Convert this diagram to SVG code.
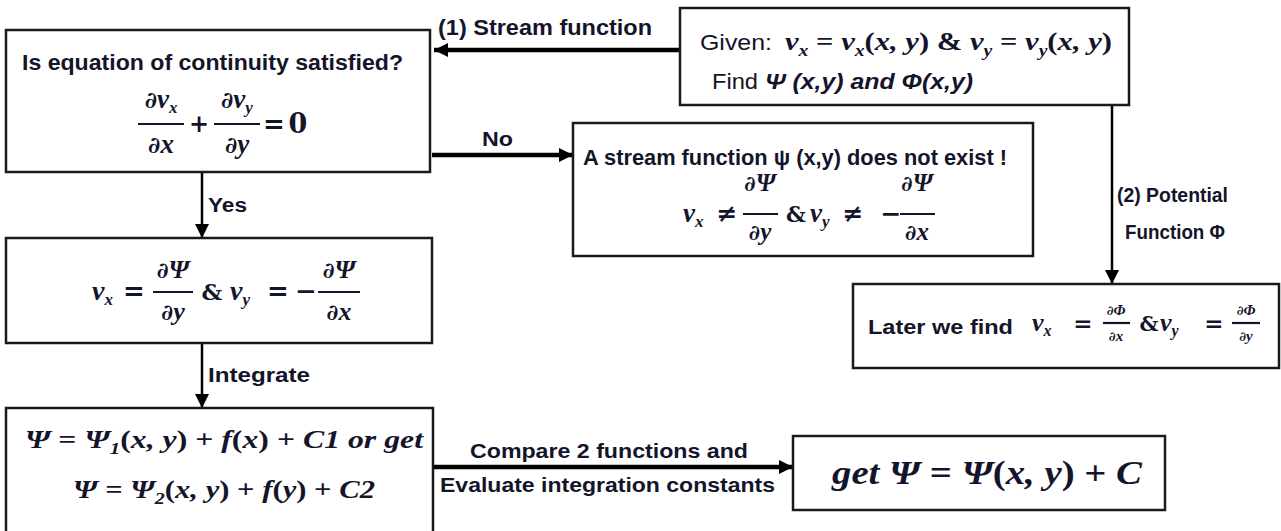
<svg xmlns="http://www.w3.org/2000/svg" width="1281" height="531" viewBox="0 0 1281 531">
  <defs>
    <marker id="head" viewBox="0 0 10 10" refX="10" refY="5" markerWidth="14" markerHeight="14" markerUnits="userSpaceOnUse" orient="auto">
      <path d="M0,0 L10,5 L0,10 z" fill="#000"/>
    </marker>
  </defs>
  <style>
    .box { fill: #fff; stroke: #1a1a1a; stroke-width: 2.5; }
    .link { fill: none; stroke: #000; }
    .thick { stroke-width: 4.5; }
    .thin { stroke-width: 2.5; }
    .bar { stroke: #14142a; stroke-width: 2.2; }
    .lbl { font-family: "Liberation Sans", Arial, sans-serif; font-weight: bold; fill: #14142a; }
    .reg { font-family: "Liberation Sans", Arial, sans-serif; fill: #14142a; }
    .math { font-family: "Liberation Serif", "DejaVu Serif", "Times New Roman", serif; font-weight: bold; font-style: italic; fill: #14142a; }
    .d { font-family: "DejaVu Serif", serif; font-size: 0.85em; }
    .up { font-style: normal; }
    .op { font-family: "DejaVu Serif", serif; font-weight: bold; fill: #14142a; text-anchor: middle; }
  </style>
  <rect width="1281" height="531" fill="#fff"/>

  <!-- connectors -->
  <g id="connectors">
    <line class="link thick" x1="680" y1="50" x2="434" y2="50" marker-end="url(#head)"/>
    <line class="link thick" x1="432" y1="155" x2="573" y2="155" marker-end="url(#head)"/>
    <line class="link thin" x1="202" y1="172" x2="202" y2="238" marker-end="url(#head)"/>
    <line class="link thin" x1="202" y1="343" x2="202" y2="408" marker-end="url(#head)"/>
    <line class="link thin" x1="1112" y1="105" x2="1112" y2="284" marker-end="url(#head)"/>
    <line class="link thick" x1="433" y1="467" x2="793" y2="467" marker-end="url(#head)"/>
    <text class="lbl" x="438" y="35" font-size="22" textLength="214" lengthAdjust="spacingAndGlyphs">(1) Stream function</text>
    <text class="lbl" x="482" y="146" font-size="20" textLength="31" lengthAdjust="spacingAndGlyphs">No</text>
    <text class="lbl" x="208" y="212" font-size="20" textLength="39" lengthAdjust="spacingAndGlyphs">Yes</text>
    <text class="lbl" x="208" y="382" font-size="20" textLength="102" lengthAdjust="spacingAndGlyphs">Integrate</text>
    <text class="lbl" x="1117" y="202" font-size="20" textLength="111" lengthAdjust="spacingAndGlyphs">(2) Potential</text>
    <text class="lbl" x="1125" y="239" font-size="20" textLength="100" lengthAdjust="spacingAndGlyphs">Function Φ</text>
    <text class="lbl" x="470" y="458" font-size="21" textLength="278" lengthAdjust="spacingAndGlyphs">Compare 2 functions and</text>
    <text class="lbl" x="440" y="492" font-size="21" textLength="335" lengthAdjust="spacingAndGlyphs">Evaluate integration constants</text>
  </g>

  <!-- starting point -->
  <g id="given">
    <rect class="box" x="680" y="8" width="449" height="97"/>
    <text class="reg" x="700" y="50" font-size="22" textLength="72" lengthAdjust="spacingAndGlyphs">Given:</text>
    <text class="math" x="785" y="50" font-size="25" textLength="327" lengthAdjust="spacingAndGlyphs">v<tspan font-size="16" dy="6">x</tspan><tspan class="up" dy="-6"> = </tspan>v<tspan font-size="16" dy="6">x</tspan><tspan class="up" dy="-6">(</tspan>x, y<tspan class="up">) &amp; </tspan>v<tspan font-size="16" dy="6">y</tspan><tspan class="up" dy="-6"> = </tspan>v<tspan font-size="16" dy="6">y</tspan><tspan class="up" dy="-6">(</tspan>x, y<tspan class="up">)</tspan></text>
    <text class="reg" x="712" y="89" font-size="22" textLength="46" lengthAdjust="spacingAndGlyphs">Find</text>
    <text class="lbl" x="765" y="89" font-size="22" font-style="italic" textLength="208" lengthAdjust="spacingAndGlyphs">Ψ (x,y)  and  Φ(x,y)</text>
  </g>

  <!-- continuity check -->
  <g id="continuity">
    <rect class="box" x="6" y="30" width="424" height="142"/>
    <text class="lbl" x="22" y="70" font-size="22" textLength="381" lengthAdjust="spacingAndGlyphs">Is equation of continuity satisfied?</text>
    <text class="math" x="161" y="108" font-size="27" text-anchor="middle"><tspan class="d">∂</tspan>v<tspan font-size="17" dy="5">x</tspan></text>
    <line class="bar" x1="138" y1="124" x2="184" y2="124"/>
    <text class="math" x="161" y="153" font-size="27" text-anchor="middle"><tspan class="d">∂</tspan>x</text>
    <text class="op" x="199" y="132" font-size="24">+</text>
    <text class="math" x="237" y="108" font-size="27" text-anchor="middle"><tspan class="d">∂</tspan>v<tspan font-size="17" dy="5">y</tspan></text>
    <line class="bar" x1="214" y1="124" x2="260" y2="124"/>
    <text class="math" x="237" y="153" font-size="27" text-anchor="middle"><tspan class="d">∂</tspan>y</text>
    <text class="op" x="274" y="133" font-size="26">=</text>
    <text class="op" x="298" y="133" font-size="27">0</text>
  </g>

  <!-- no stream function -->
  <g id="no-stream">
    <rect class="box" x="573" y="123" width="460" height="133"/>
    <text class="lbl" x="583" y="165" font-size="22" textLength="424" lengthAdjust="spacingAndGlyphs">A stream function ψ (x,y) does not exist !</text>
    <text class="math" x="683" y="222" font-size="27">v<tspan font-size="17" dy="5">x</tspan></text>
    <text class="op" x="727" y="222" font-size="25">≠</text>
    <text class="math" x="760" y="191" font-size="25" text-anchor="middle"><tspan class="d">∂</tspan>Ψ</text>
    <line class="bar" x1="743" y1="214" x2="778" y2="214"/>
    <text class="math" x="760" y="240" font-size="25" text-anchor="middle"><tspan class="d">∂</tspan>y</text>
    <text class="op" x="796" y="222" font-size="22">&amp;</text>
    <text class="math" x="810" y="222" font-size="27">v<tspan font-size="17" dy="5">y</tspan></text>
    <text class="op" x="853" y="222" font-size="25">≠</text>
    <text class="op" x="891" y="222" font-size="25">−</text>
    <text class="math" x="917" y="191" font-size="25" text-anchor="middle"><tspan class="d">∂</tspan>Ψ</text>
    <line class="bar" x1="900" y1="214" x2="935" y2="214"/>
    <text class="math" x="917" y="240" font-size="25" text-anchor="middle"><tspan class="d">∂</tspan>x</text>
  </g>

  <!-- velocity from stream function -->
  <g id="stream-def">
    <rect class="box" x="6" y="238" width="426" height="105"/>
    <text class="math" x="92" y="300" font-size="28">v<tspan font-size="17" dy="5">x</tspan></text>
    <text class="op" x="134" y="300" font-size="26">=</text>
    <text class="math" x="173" y="278" font-size="26" text-anchor="middle"><tspan class="d">∂</tspan>Ψ</text>
    <line class="bar" x1="153" y1="292" x2="193" y2="292"/>
    <text class="math" x="173" y="320" font-size="26" text-anchor="middle"><tspan class="d">∂</tspan>y</text>
    <text class="op" x="212" y="300" font-size="23">&amp;</text>
    <text class="math" x="230" y="300" font-size="28">v<tspan font-size="17" dy="5">y</tspan></text>
    <text class="op" x="278" y="300" font-size="26">=</text>
    <text class="op" x="306" y="300" font-size="26">−</text>
    <text class="math" x="339" y="278" font-size="26" text-anchor="middle"><tspan class="d">∂</tspan>Ψ</text>
    <line class="bar" x1="318" y1="292" x2="360" y2="292"/>
    <text class="math" x="339" y="320" font-size="26" text-anchor="middle"><tspan class="d">∂</tspan>x</text>
  </g>

  <!-- potential function result -->
  <g id="potential">
    <rect class="box" x="853" y="284" width="426" height="84"/>
    <text class="lbl" x="868" y="334" font-size="21" textLength="145" lengthAdjust="spacingAndGlyphs">Later we find</text>
    <text class="math" x="1032" y="331" font-size="26">v<tspan font-size="16" dy="5">x</tspan></text>
    <text class="op" x="1083" y="331" font-size="23">=</text>
    <text class="math" x="1116" y="315" font-size="15" text-anchor="middle"><tspan class="d">∂</tspan>Φ</text>
    <line class="bar" x1="1103" y1="323" x2="1130" y2="323" stroke-width="1.8"/>
    <text class="math" x="1116" y="341" font-size="15" text-anchor="middle"><tspan class="d">∂</tspan>x</text>
    <text class="op" x="1149" y="331" font-size="21">&amp;</text>
    <text class="math" x="1160" y="331" font-size="26">v<tspan font-size="16" dy="5">y</tspan></text>
    <text class="op" x="1214" y="331" font-size="23">=</text>
    <text class="math" x="1246" y="315" font-size="15" text-anchor="middle"><tspan class="d">∂</tspan>Φ</text>
    <line class="bar" x1="1232" y1="323" x2="1260" y2="323" stroke-width="1.8"/>
    <text class="math" x="1246" y="341" font-size="15" text-anchor="middle"><tspan class="d">∂</tspan>y</text>
  </g>

  <!-- integrated forms -->
  <g id="integrated">
    <rect class="box" x="6" y="408" width="427" height="130"/>
    <text class="math" x="25" y="448" font-size="26" textLength="398" lengthAdjust="spacingAndGlyphs">Ψ<tspan class="up"> = </tspan>Ψ<tspan font-size="17" dy="6">1</tspan><tspan class="up" dy="-6">(</tspan>x, y<tspan class="up">) + </tspan>f<tspan class="up">(</tspan>x<tspan class="up">) + </tspan>C1   or get</text>
    <text class="math" x="73" y="498" font-size="26" textLength="302" lengthAdjust="spacingAndGlyphs">Ψ<tspan class="up"> = </tspan>Ψ<tspan font-size="17" dy="6">2</tspan><tspan class="up" dy="-6">(</tspan>x, y<tspan class="up">) + </tspan>f<tspan class="up">(</tspan>y<tspan class="up">) + </tspan>C2</text>
  </g>

  <!-- final result -->
  <g id="result">
    <rect class="box" x="793" y="436" width="372" height="74"/>
    <text class="math" x="832" y="484" font-size="33" textLength="310" lengthAdjust="spacingAndGlyphs">get  Ψ<tspan class="up"> = </tspan>Ψ<tspan class="up">(</tspan>x, y<tspan class="up">) + </tspan>C</text>
  </g>
</svg>
